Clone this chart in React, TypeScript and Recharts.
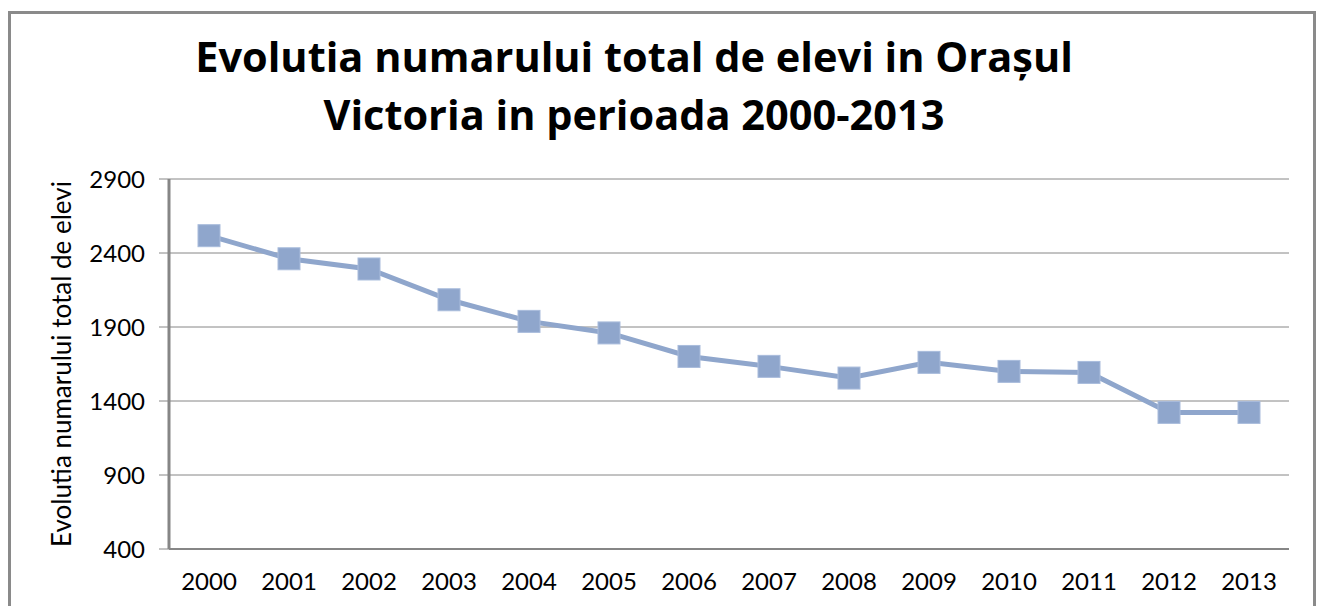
import React from 'react';
import { LineChart, Line, XAxis, YAxis, CartesianGrid, Label } from 'recharts';

const years = ['2000','2001','2002','2003','2004','2005','2006','2007','2008','2009','2010','2011','2012','2013'];
const students = [2517, 2361, 2292, 2084, 1938, 1860, 1701, 1634, 1555, 1661, 1600, 1593, 1323, 1323];
const yTicks = [400, 900, 1400, 1900, 2400, 2900];
const titleLine1 = 'Evolutia numarului total de elevi in Orașul';
const titleLine2 = 'Victoria in perioada 2000-2013';
const yLabel = 'Evolutia numarului total de elevi';

const data = years.map((y, i) => ({ year: y, value: students[i] }));

const FONT = 'Lato, "Open Sans", sans-serif';
const TITLE_FONT = '"Open Sans", Lato, sans-serif';
const COLOR = '#8fa6cc';

const SquareDot = (props: any) => {
  const { cx, cy } = props;
  if (cx == null || cy == null) return null;
  const s = 22;
  return <rect x={cx - s / 2} y={cy - s / 2} width={s} height={s} fill={COLOR} stroke="#a9bcdc" strokeWidth={1} />;
};

export default function App() {
  return (
    <div style={{ position: 'absolute', left: 0, top: 0, width: 1328, height: 606, background: '#fff', overflow: 'hidden' }}>
      <div style={{ position: 'absolute', left: 8, top: 11, width: 1308, height: 620, border: '3px solid #8a8a8a', boxSizing: 'border-box' }} />
      <div style={{ position: 'absolute', left: 0, top: 27, width: 1268, textAlign: 'center', fontFamily: TITLE_FONT, fontWeight: 700, fontSize: 41.5, lineHeight: '58px', color: '#000' }}>
        <div>{titleLine1}</div>
        <div>{titleLine2}</div>
      </div>
      <div style={{ position: 'absolute', left: 0, top: 0 }}>
        <LineChart width={1328} height={606} data={data} margin={{ top: 179, right: 39, bottom: 7, left: 0 }}>
          <CartesianGrid vertical={false} stroke="#868686" strokeWidth={1} />
          <XAxis
            dataKey="year"
            padding={{ left: 40, right: 40 }}
            height={50}
            tickLine={false}
            axisLine={{ stroke: '#868686', strokeWidth: 2 }}
            tick={{ fill: '#000', fontSize: 24, fontFamily: FONT }}
            tickMargin={18}
            interval={0}
          />
          <YAxis
            domain={[400, 2900]}
            ticks={yTicks}
            width={169}
            tickSize={10}
            tickLine={{ stroke: '#868686' }}
            axisLine={{ stroke: '#868686', strokeWidth: 3 }}
            tick={{ fill: '#000', fontSize: 24, fontFamily: FONT }}
            tickMargin={14}
            interval={0}
          >
            <Label
              value={yLabel}
              angle={-90}
              position="insideLeft"
              offset={0}
              style={{ fill: '#000', fontSize: 26, fontFamily: FONT, textAnchor: 'middle' }}
              dx={62}
            />
          </YAxis>
          <Line
            type="linear"
            dataKey="value"
            stroke={COLOR}
            strokeWidth={5}
            dot={<SquareDot />}
            activeDot={false}
            isAnimationActive={false}
          />
        </LineChart>
      </div>
    </div>
  );
}
